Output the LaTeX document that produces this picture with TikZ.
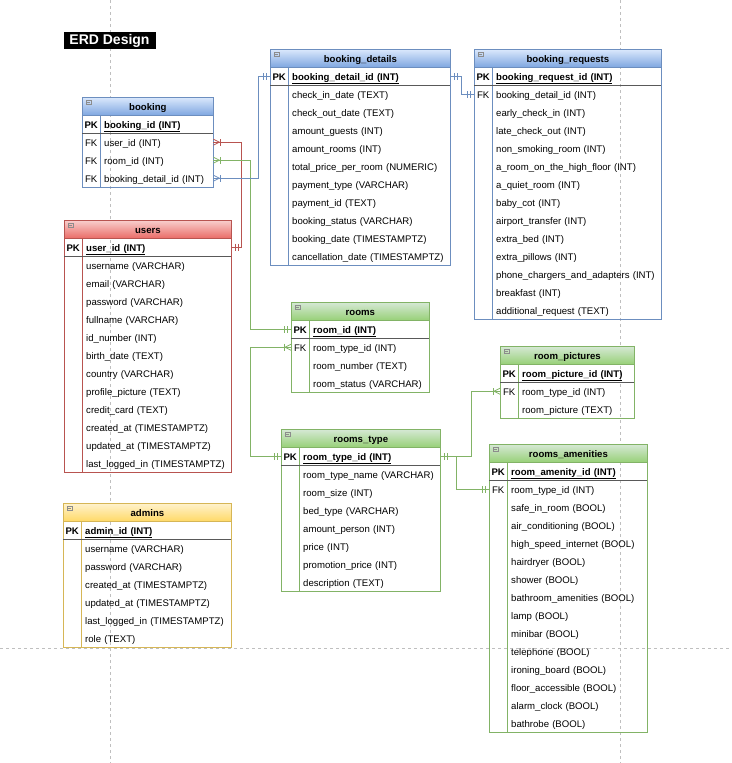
\documentclass[tikz,border=0pt]{standalone}
\usepackage{fontspec}
\setmainfont{Liberation Sans}
\usepackage{xcolor}
\usepackage{tikz}
\usetikzlibrary{decorations.markings}
\pgfdeclarelayer{gridlayer}
\pgfdeclarelayer{edgelayer}
\pgfsetlayers{gridlayer,main,edgelayer}

\definecolor{bluetop}{HTML}{DAE8FC}
\definecolor{bluebot}{HTML}{7EA6E0}
\definecolor{blueline}{HTML}{6C8EBF}
\definecolor{redtop}{HTML}{F8CECC}
\definecolor{redbot}{HTML}{EA6B66}
\definecolor{redline}{HTML}{B85450}
\definecolor{greentop}{HTML}{D5E8D4}
\definecolor{greenbot}{HTML}{97D077}
\definecolor{greenline}{HTML}{82B366}
\definecolor{yellowtop}{HTML}{FFF2CC}
\definecolor{yellowbot}{HTML}{FFD966}
\definecolor{yellowline}{HTML}{D6B656}

\newcommand{\erdfont}{\fontsize{9.6}{11}\selectfont}

\tikzset{
    erdhead/.style = {anchor=north west, minimum height=18pt, inner sep=0pt, text height=9pt, text depth=1pt, font=\erdfont\bfseries, line width=0.8pt},
    erdkey/.style = {anchor=north west, minimum width=18pt, minimum height=18pt, inner sep=0pt, text height=9pt, text depth=1pt, font=\erdfont},
    erdfield/.style = {anchor=north west, minimum height=18pt, inner xsep=4pt, inner ysep=0pt, text height=9pt, text depth=1pt, align=left, font=\erdfont},
    keyline/.style = {black!65, line width=0.8pt},
    guide/.style = {black!25, line width=0.6pt, dash pattern=on 3pt off 3pt},
    link/.style = {line width=0.8pt},
    startone/.style = {postaction={decorate, decoration={markings,
        mark=at position 4pt with {\draw (0pt,-3.5pt) -- (0pt,3.5pt);},
        mark=at position 7pt with {\draw (0pt,-3.5pt) -- (0pt,3.5pt);}}}},
    endone/.style = {postaction={decorate, decoration={markings,
        mark=at position -4pt with {\draw (0pt,-3.5pt) -- (0pt,3.5pt);},
        mark=at position -7pt with {\draw (0pt,-3.5pt) -- (0pt,3.5pt);}}}},
    startmany/.style = {postaction={decorate, decoration={markings,
        mark=at position 0.01pt with {\draw (0pt,3pt) -- (6pt,0pt) -- (0pt,-3pt); \draw (7pt,-3.5pt) -- (7pt,3.5pt);}}}},
    endmany/.style = {postaction={decorate, decoration={markings,
        mark=at position -0.01pt with {\draw (0pt,3pt) -- (-6pt,0pt) -- (0pt,-3pt); \draw (-7pt,-3.5pt) -- (-7pt,3.5pt);}}}}
}

% table: name, x, y, width, colour, title, key field, rows
\newcommand{\erdtable}[8]{%
    \pgfmathsetmacro\erdtw{#4-26}
    \node [erdhead, top color=#5top, bottom color=#5bot, draw=#5line, minimum width=#4pt] (#1) at (#2,#3) {#6};
    \draw [black!45, line width=0.4pt] (#2+4,#3+3) rectangle ++(5,4) (#2+5,#3+5) -- ++(3,0);
    \node [erdkey, font=\erdfont\bfseries] (#1-kpk) at (#2,#3+18) {PK};
    \node [erdfield, text width=\erdtw pt] (#1-pk) at (#2+18,#3+18) {\textbf{\underline{#7}}};
    \foreach \kind/\field [count=\i] in {#8} {
        \node [erdkey] (#1-k\i) at (#2,#3+18+18*\i) {\kind};
        \node [erdfield, text width=\erdtw pt] (#1-\i) at (#2+18,#3+18+18*\i) {\field};
        \xdef\erdrows{\i}
    }
    \draw [#5line, line width=0.8pt] (#2,#3+18) rectangle (#2+#4,#3+36+18*\erdrows);
    \draw [#5line, line width=0.8pt] (#2+18,#3+18) -- (#2+18,#3+36+18*\erdrows);
    \draw [keyline] (#2,#3+36) -- (#2+#4,#3+36);
}

\begin{document}
\begin{tikzpicture}[x=1pt, y=-1pt]
    \useasboundingbox (0,0) rectangle (731,763);
    \begin{pgfonlayer}{gridlayer}
        \draw [guide] (110,0) -- (110,763);
        \draw [guide] (620,0) -- (620,763);
        \draw [guide] (0,648) -- (731,648);
    \end{pgfonlayer}

    \node [fill=black, text=white, font=\bfseries\fontsize{14}{14}\selectfont, minimum width=92pt, minimum height=17pt, inner sep=0pt] (title) at (109.5,40.5) {ERD Design};

    \erdtable{booking}{82}{97}{131}{blue}{booking}{booking\_id (INT)}
        {FK/user\_id (INT), FK/room\_id (INT), FK/booking\_detail\_id (INT)}
    \erdtable{details}{270}{49}{180}{blue}{booking\_details}{booking\_detail\_id (INT)}
        {/check\_in\_date (TEXT), /check\_out\_date (TEXT), /amount\_guests (INT), /amount\_rooms (INT),
         /total\_price\_per\_room (NUMERIC), /payment\_type (VARCHAR), /payment\_id (TEXT),
         /booking\_status (VARCHAR), /booking\_date (TIMESTAMPTZ), /cancellation\_date (TIMESTAMPTZ)}
    \erdtable{requests}{474}{49}{187}{blue}{booking\_requests}{booking\_request\_id (INT)}
        {FK/booking\_detail\_id (INT), /early\_check\_in (INT), /late\_check\_out (INT), /non\_smoking\_room (INT),
         /a\_room\_on\_the\_high\_floor (INT), /a\_quiet\_room (INT), /baby\_cot (INT), /airport\_transfer (INT),
         /extra\_bed (INT), /extra\_pillows (INT), /phone\_chargers\_and\_adapters (INT), /breakfast (INT),
         /additional\_request (TEXT)}
    \erdtable{users}{64}{220}{167}{red}{users}{user\_id (INT)}
        {/username (VARCHAR), /email (VARCHAR), /password (VARCHAR), /fullname (VARCHAR), /id\_number (INT),
         /birth\_date (TEXT), /country (VARCHAR), /profile\_picture (TEXT), /credit\_card (TEXT),
         /created\_at (TIMESTAMPTZ), /updated\_at (TIMESTAMPTZ), /last\_logged\_in (TIMESTAMPTZ)}
    \erdtable{rooms}{291}{302}{138}{green}{rooms}{room\_id (INT)}
        {FK/room\_type\_id (INT), /room\_number (TEXT), /room\_status (VARCHAR)}
    \erdtable{pictures}{500}{346}{134}{green}{room\_pictures}{room\_picture\_id (INT)}
        {FK/room\_type\_id (INT), /room\_picture (TEXT)}
    \erdtable{roomtype}{281}{429}{159}{green}{rooms\_type}{room\_type\_id (INT)}
        {/room\_type\_name (VARCHAR), /room\_size (INT), /bed\_type (VARCHAR), /amount\_person (INT),
         /price (INT), /promotion\_price (INT), /description (TEXT)}
    \erdtable{amenities}{489}{444}{158}{green}{rooms\_amenities}{room\_amenity\_id (INT)}
        {FK/room\_type\_id (INT), /safe\_in\_room (BOOL), /air\_conditioning (BOOL), /high\_speed\_internet (BOOL),
         /hairdryer (BOOL), /shower (BOOL), /bathroom\_amenities (BOOL), /lamp (BOOL), /minibar (BOOL),
         /telephone (BOOL), /ironing\_board (BOOL), /floor\_accessible (BOOL), /alarm\_clock (BOOL),
         /bathrobe (BOOL)}
    \erdtable{admins}{63}{503}{168}{yellow}{admins}{admin\_id (INT)}
        {/username (VARCHAR), /password (VARCHAR), /created\_at (TIMESTAMPTZ), /updated\_at (TIMESTAMPTZ),
         /last\_logged\_in (TIMESTAMPTZ), /role (TEXT)}

    \begin{pgfonlayer}{edgelayer}
        \draw [link, redline, startmany, endone] (booking-1.east) -- ++(28,0) |- (users-pk.east);
        \draw [link, greenline, startmany, endone] (booking-2.east) -- ++(37,0) |- (rooms-kpk.west);
        \draw [link, blueline, startmany, endone] (booking-3.east) -- ++(45,0) |- (details-kpk.west);
        \draw [link, blueline, startone, endone] (details-pk.east) -- ++(11,0) |- (requests-k1.west);
        \draw [link, greenline, startmany, endone] (rooms-k1.west) -- ++(-41,0) |- (roomtype-kpk.west);
        \draw [link, greenline, startone, endmany] (roomtype-pk.east) -- ++(31,0) |- (pictures-k1.west);
        \draw [link, greenline, startone, endone] (roomtype-pk.east) -- ++(16,0) |- (amenities-k1.west);
    \end{pgfonlayer}
\end{tikzpicture}
\end{document}
